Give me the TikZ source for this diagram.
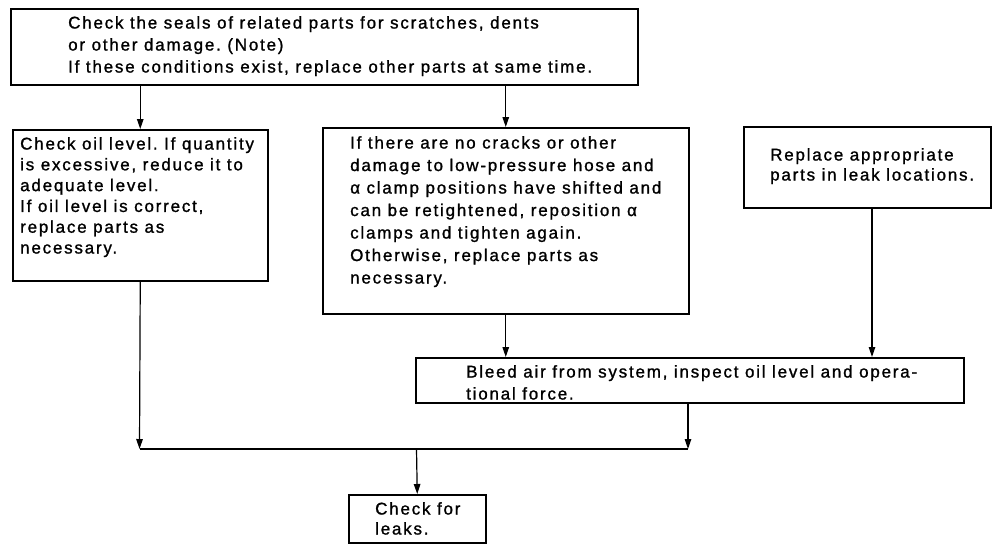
\documentclass[tikz,border=0pt]{standalone}
\usepackage{fontspec}
\setmainfont{Liberation Sans}[LetterSpace=10.5,FakeBold=1.2]
\usetikzlibrary{arrows.meta}
\frenchspacing
\begin{document}
\begin{tikzpicture}[x=1pt,y=-1pt,
  box/.style={draw, line width=1.5pt, inner sep=0pt, anchor=north west},
  txt/.style={anchor=north west, inner sep=0pt, align=left, font=\fontsize{17}{21}\selectfont},
  conn/.style={line width=1.2pt},
  arr/.style={conn, -{Triangle[length=10pt,width=6.5pt]}}]
\useasboundingbox (0,0) rectangle (992,544);

% boxes
\node[box, minimum width=627pt, minimum height=76pt] (top) at (10,8) {};
\node[box, minimum width=255pt, minimum height=151pt] (left) at (12,129) {};
\node[box, minimum width=366pt, minimum height=186pt] (mid) at (322,127) {};
\node[box, minimum width=247pt, minimum height=81pt] (right) at (743,126) {};
\node[box, minimum width=548pt, minimum height=45pt] (bleed) at (415,357) {};
\node[box, minimum width=137pt, minimum height=48pt] (chk) at (348,494) {};

% texts
\node[txt, font=\fontsize{17}{22}\selectfont] (topt) at (68,16) {Check the seals of related parts for scratches, dents\\
or other damage. (Note)\\
If these conditions exist, replace other parts at same time.};
\node[txt, font=\fontsize{17}{20.8}\selectfont] (leftt) at (20,137) {Check oil level. If quantity\\
is excessive, reduce it to\\
adequate level.\\
If oil level is correct,\\
replace parts as\\
necessary.};
\node[txt, font=\fontsize{17}{22.5}\selectfont] (midt) at (350,136) {If there are no cracks or other\\
damage to low-pressure hose and\\
α clamp positions have shifted and\\
can be retightened, reposition α\\
clamps and tighten again.\\
Otherwise, replace parts as\\
necessary.};
\node[txt, font=\fontsize{17}{20}\selectfont] (rightt) at (770,148) {Replace appropriate\\
parts in leak locations.};
\node[txt, font=\fontsize{17}{22}\selectfont] (bleedt) at (466,365) {Bleed air from system, inspect oil level and opera-\\
tional force.};
\node[txt, font=\fontsize{17}{20}\selectfont] (chkt) at (375,502) {Check for\\
leaks.};

% connectors
\coordinate (jl) at (139.5,449);
\coordinate (jr) at (688,449);
\coordinate (jm) at (416.5,449);
\coordinate (ra) at (872,207);
\draw[arr] (left.north |- top.south) -- (left.north);
\draw[arr] (mid.north |- top.south) -- (mid.north);
\draw[arr] (mid.south) -- (mid.south |- bleed.north);
\draw[arr] (ra) -- (ra |- bleed.north);
\draw[arr] (left.south) -- (jl);
\draw[arr] (jr |- bleed.south) -- (jr);
\draw[conn] (jl) -- (jr);
\draw[arr] (jm) -- (chk.north);
\end{tikzpicture}
\end{document}
